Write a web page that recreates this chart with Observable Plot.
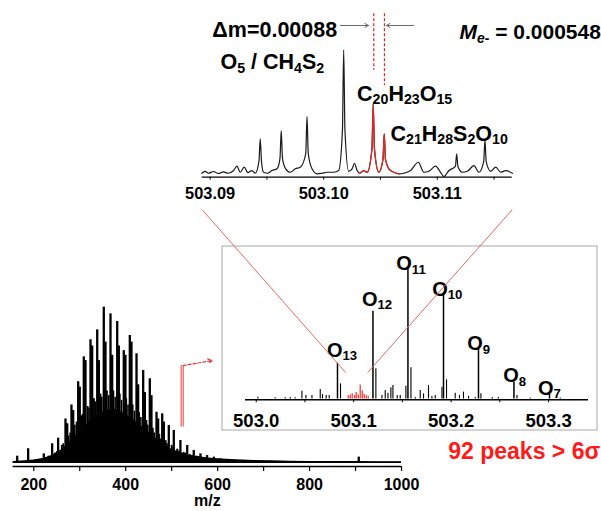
<!DOCTYPE html>
<html><head><meta charset="utf-8">
<script src="https://cdn.jsdelivr.net/npm/d3@7"></script>
<script src="https://cdn.jsdelivr.net/npm/@observablehq/plot@0.6"></script>
<style>
html,body{margin:0;padding:0;background:#fff;}
#fig{position:relative;width:601px;height:511px;overflow:hidden;background:#fff;}
#fig .pane{position:absolute;}
</style></head><body><div id="fig"></div>
<script>
const FONT = '"Liberation Sans", Arial, Helvetica, sans-serif';

// ---------- main spectrum (m/z 155-1000) ----------
const mainMz = [163.9,187.8,221.8,240,253,269,272.7,282,285.7,296.6,300,308.8,312.5,323.4,327,338,341.5,352.3,356,366.9,370.5,381.5,385,395.8,399.4,408.9,412.5,423.5,427,438,441.6,452.4,456,467,470.5,479.4,483,493.7,504.6,519,533.8,548,562.6,577,591.9,606,621,636,650,907];
const mainI  = [4,8.8,5.5,12,15.6,28,24.9,37,33.4,52,48.5,68,65.6,79,75,85.4,65.6,100,77.5,95.7,69,90.8,75,72,69,81.8,77.5,70,50,59.2,45,53.9,43,32.3,28,31.3,26,23.8,20.6,14.1,10.9,7.7,5.5,4.4,3.4,2.3,1.8,1.4,1.2,3.4];
const midMz = [232,246,261,275,289,303,317,331,345,359,373,387,401,415,429,445,459,473,487,500,512,526,540,555,570,584,598,612,627,641,655,670,684];
const midI  = [4,6,11,17,24,30,36,41,44,46,46,44,41,37,32,27,22,18,14,11,8.5,6.5,5,4,3,2.5,2,1.7,1.5,1.3,1.1,1,0.9];
const fillMz = [236,250,264,279,293,306,320,334,348,363,377,391,405,419,433,448,462,476,490,503,516,530,544,559,573,588];
const fillI  = [4,7,12,19,26,31,35,39,42,43,42,40,37,33,29,24,19,15,12,9.5,7.5,6,4.5,3.6,2.8,2.2];
const envMz = [155,180,200,220,240,260,280,300,320,340,360,380,400,420,440,460,480,500,520,540,560,580,600,640,680,720,760,800,850,900,950,1000];
const envI  = [0.6,1,1.5,2.5,4.5,8,14,20,26,31,34,34,31,27,22,17,12,8.5,6.2,4.6,3.6,2.9,2.3,1.7,1.3,1.0,0.8,0.6,0.5,0.5,0.4,0.4];
const mainTicks = [200,300,400,500,600,700,800,900,1000];
const mainTickLabels = [200,400,600,800,1000];
const mainAxisY = -2.6;
const mainXLabel = {x: 577.5, text: "m/z"};
const zoomStems = [520.6, 525];
const zoomStemRange = [22.7, 62.4];
const zoomArrow = [{x1: 525, y1: 62.4, x2: 588.2, y2: 65.6}];

// ---------- inset (m/z 503.0-503.3) ----------
const oMz = [503.0834,503.1198,503.1557,503.1922,503.2281,503.2645,503.3010];
const oI  = [27.2,66.6,100,80.3,38.1,12.7,3.4];
const oLabels = ["O_{13}","O_{12}","O_{11}","O_{10}","O_{9}","O_{8}","O_{7}"];
const oLabelMz = [503.0726,503.1085,503.1437,503.1806,503.2165,503.2535,503.2891];
const oLabelI  = [32.2,70.9,97.5,78.5,36.8,12.7,3.4];
const smallMz = [503.0017,503.0195,503.0298,503.0349,503.0400,503.0469,503.0510,503.0572,503.0657,503.0680,503.0718,503.0749,503.0865,503.1228,503.1290,503.1324,503.1352,503.1382,503.1403,503.1447,503.1478,503.1536,503.1588,503.1632,503.1683,503.1717,503.1768,503.1803,503.1837,503.1906,503.1953,503.2042,503.2086,503.2127,503.2179,503.2248,503.2306,503.2422,503.2484,503.2676,503.2812,503.3120];
const smallI  = [1.4,0.9,0.9,1.2,0.9,5.9,2.7,2.7,7.2,3.4,2.7,2.7,11.5,22.9,2.7,6.4,4.4,8.5,10.2,2.7,2.7,9.7,23.7,1.1,6.4,3.9,10.2,1.9,2.7,9,14.6,4.4,2.7,5.2,1.9,1.1,3.9,1.1,1.1,2.7,0.8,0.8];
const redMz = [503.0944,503.0965,503.0985,503.1011,503.1026,503.1047,503.1067,503.1088,503.1108,503.1129,503.1149];
const redI  = [2.5,3,4,2.6,5,3,10.6,6,3.5,2.5,2];
const insetTicks = [503.0,503.05,503.1,503.15,503.2,503.25,503.3];
const insetTickLabels = [503.0,503.1,503.2,503.3];
const insetAxisY = -0.6;
const insetNote = [{x: 503.353, y: -45.4, text: "92 peaks > 6σ"}];

// ---------- zoomed profile (m/z 503.089-503.117) ----------
const profileMz = [503.08927,503.08956,503.08985,503.09029,503.09073,503.09117,503.09161,503.09206,503.09236,503.09265,503.09300,503.09333,503.09368,503.09397,503.09430,503.09441,503.09452,503.09470,503.09506,503.09544,503.09589,503.09615,503.09626,503.09637,503.09665,503.09706,503.09750,503.09794,503.09842,503.09853,503.09864,503.09897,503.09942,503.09986,503.10030,503.10088,503.10132,503.10165,503.10176,503.10187,503.10220,503.10250,503.10271,503.10294,503.10317,503.10353,503.10383,503.10425,503.10436,503.10447,503.10485,503.10522,503.10533,503.10544,503.10574,503.10618,503.10662,503.10706,503.10765,503.10833,503.10882,503.10926,503.10985,503.11029,503.11059,503.11103,503.11160,503.11171,503.11182,503.11221,503.11265,503.11323,503.11367,503.11409,503.11420,503.11431,503.11471,503.11515,503.11559,503.11603,503.11662];
const profileI  = [0,1.6,0,1.4,-0.2,1.1,0,2.2,5.7,0.8,4.9,0.5,2.2,0,9.8,27.9,9.8,0.8,0,2.2,3.6,12.1,34.6,12.1,3.6,0.8,3.6,4.9,16,45.9,16,3.6,-0.5,0,0.8,0.8,2.2,35,100,35,1.6,3.6,8.1,2.2,0,2.2,0.8,19.7,56.2,19.7,0.8,11.2,31.9,11.2,3.6,0.8,-0.5,0,2.2,8.9,0.8,1.6,5.7,0.8,-2.7,2.2,5.5,15.7,5.5,0.8,1.6,6.2,0.8,9.5,27.1,9.5,1.6,4.9,0.8,2.2,0];
const redRange = [503.10317, 503.10662];
const topTicks = [503.09,503.095,503.10,503.105,503.11,503.115];
const topTickLabels = [503.09,503.10,503.11];
const topAxisY = -3.2;
const topLabels = [
  {x: 503.09569, y: 110.2, text: "Δm=0.00088", anchor: "middle"},
  {x: 503.09547, y: 84.6, text: "O_{5} / CH_{4}S_{2}", anchor: "middle"},
  {x: 503.10294, y: 58.9, text: "C_{20}H_{23}O_{15}", anchor: "start"},
  {x: 503.10588, y: 26.5, text: "C_{21}H_{28}S_{2}O_{10}", anchor: "start"},
  {x: 503.12441, y: 108.8, text: "*M*_{*e-*} = 0.000548", anchor: "end"}
];
const deltaArrows = [{x1: 503.10147, x2: 503.10394, y: 119.7}, {x1: 503.10791, x2: 503.10553, y: 119.7}];
const splitLines = [{x: 503.10441, y1: 129.2, y2: 83.2}, {x: 503.10535, y1: 129.2, y2: 71.1}];

// connectors: top-plot corners -> inset points
const connTopMz = [503.0893, 503.1166];
const connTopY = -29.6;
const connInsetMz = [503.0918, 503.1144];
const connInsetY = 20.1;

const rows = (xs, ys) => xs.map((x, i) => ({x, y: ys[i]}));

const fig = document.getElementById("fig");
function pane(left, top) {
  const d = document.createElement("div");
  d.className = "pane"; d.style.left = left + "px"; d.style.top = top + "px";
  fig.appendChild(d); return d;
}

// rich text: _{sub} and *italic*
function richify(root) {
  root.querySelectorAll("text").forEach(t => {
    const s = t.textContent;
    if (!/[_*]/.test(s)) return;
    const fs = parseFloat(getComputedStyle(t).fontSize);
    const segs = []; let sub = false, it = false, buf = "";
    const push = () => { if (buf) segs.push({text: buf, sub, it}); buf = ""; };
    for (let i = 0; i < s.length; i++) {
      const c = s[i];
      if (c === "_" && s[i + 1] === "{") { push(); sub = true; i++; }
      else if (c === "}" && sub) { push(); sub = false; }
      else if (c === "*") { push(); it = !it; }
      else buf += c;
    }
    push();
    while (t.firstChild) t.removeChild(t.firstChild);
    const shift = 0.18 * fs; let shifted = false;
    for (const g of segs) {
      const ts = document.createElementNS("http://www.w3.org/2000/svg", "tspan");
      ts.textContent = g.text;
      if (g.sub) {
        ts.setAttribute("font-size", (0.66 * fs).toFixed(1));
        if (!shifted) { ts.setAttribute("dy", shift.toFixed(2)); shifted = true; }
      } else if (shifted) { ts.setAttribute("dy", (-shift).toFixed(2)); shifted = false; }
      if (g.it) ts.setAttribute("font-style", "italic");
      t.appendChild(ts);
    }
  });
}

// ----- main spectrum -----
const mainPane = pane(0, 290);
const mainPlot = Plot.plot({
  width: 420, height: 221, margin: 0,
  x: {domain: [155, 1000], range: [12.6, 401], axis: null},
  y: {domain: [0, 100], range: [171.9, 16.7], axis: null},
  style: {overflow: "visible", fontFamily: FONT, background: "transparent"},
  marks: [
    Plot.areaY(rows(envMz, envI), {x: "x", y: "y", fill: "black"}),
    Plot.ruleX(rows(fillMz, fillI), {x: "x", y1: 0, y2: "y", stroke: "black", strokeWidth: 1.6}),
    Plot.ruleX(rows(midMz, midI), {x: "x", y1: 0, y2: "y", stroke: "black", strokeWidth: 1.9}),
    Plot.ruleX(rows(mainMz, mainI), {x: "x", y1: 0, y2: "y", stroke: "black", strokeWidth: 2.3}),
    Plot.ruleY([0], {x1: 155, x2: 1000, stroke: "black", strokeWidth: 1.2}),
    Plot.ruleY([mainAxisY], {x1: 155, x2: 1000, stroke: "black", strokeWidth: 1.5}),
    Plot.ruleX(mainTicks, {x: d => d, y1: mainAxisY, y2: mainAxisY, insetBottom: -5, stroke: "black", strokeWidth: 1.2}),
    Plot.text(mainTickLabels, {x: d => d, y: mainAxisY, text: d => String(d), dy: 24, lineAnchor: "bottom", fontSize: 16, fontWeight: "bold", fill: "black"}),
    Plot.text([mainXLabel], {x: "x", y: mainAxisY, text: "text", dy: 40, lineAnchor: "bottom", fontSize: 16, fontWeight: "bold", fill: "black"}),
    Plot.ruleX(zoomStems, {x: d => d, y1: zoomStemRange[0], y2: zoomStemRange[1], stroke: "#e33a3a", strokeWidth: 1}),
    Plot.arrow(zoomArrow, {x1: "x1", y1: "y1", x2: "x2", y2: "y2", stroke: "#e33a3a", strokeWidth: 1.2, strokeDasharray: "3,2", headLength: 6})
  ]
});
mainPane.appendChild(mainPlot);

// ----- inset -----
const insetPane = pane(221, 245);
const insetPlot = Plot.plot({
  width: 376, height: 185, margin: 0,
  x: {domain: [502.989, 503.341], range: [24, 367], axis: null},
  y: {domain: [0, 100], range: [153.5, 21.7], axis: null},
  style: {overflow: "visible", fontFamily: FONT, background: "transparent"},
  marks: [
    Plot.frame({stroke: "#a8a8a8", strokeWidth: 1, inset: 0.5}),
    Plot.ruleX(rows(smallMz, smallI), {x: "x", y1: 0, y2: "y", stroke: "black", strokeWidth: 1.1}),
    Plot.ruleX(rows(redMz, redI), {x: "x", y1: 0, y2: "y", stroke: "#ee1c1c", strokeWidth: 1.1}),
    Plot.ruleX(rows(oMz, oI), {x: "x", y1: 0, y2: "y", stroke: "black", strokeWidth: 1.5}),
    Plot.ruleY([insetAxisY], {x1: 502.989, x2: 503.341, stroke: "black", strokeWidth: 1.6}),
    Plot.ruleX(insetTicks, {x: d => d, y1: insetAxisY, y2: insetAxisY, insetBottom: -3, stroke: "black", strokeWidth: 1}),
    Plot.text(insetTickLabels, {x: d => d, y: insetAxisY, text: d => d.toFixed(1), dy: 27.4, lineAnchor: "bottom", fontSize: 18.5, fontWeight: "bold", fill: "black"}),
    Plot.text(oLabels.map((t, i) => ({t, x: oLabelMz[i], y: oLabelI[i]})), {x: "x", y: "y", text: "t", textAnchor: "start", lineAnchor: "bottom", fontSize: 20, fontWeight: "bold", fill: "black"}),
    Plot.text(insetNote, {x: "x", y: "y", text: "text", textAnchor: "end", lineAnchor: "bottom", fontSize: 23, fontWeight: "bold", fill: "#ff1a1a"})
  ]
});
insetPane.appendChild(insetPlot);

// ----- zoomed profile -----
const topPane = pane(170, 0);
const profile = rows(profileMz, profileI);
const topPlot = Plot.plot({
  width: 431, height: 210, margin: 0,
  x: {domain: [503.0893, 503.1166], range: [31.7, 341.7], axis: null},
  y: {domain: [0, 100], range: [172.75, 49.3], axis: null},
  style: {overflow: "visible", fontFamily: FONT, background: "transparent"},
  marks: [
    Plot.line(profile, {x: "x", y: "y", stroke: "#1a1a1a", strokeWidth: 1.2, curve: "monotone-x"}),
    Plot.line(profile.filter(d => d.x >= redRange[0] && d.x <= redRange[1]), {x: "x", y: "y", stroke: "#e32626", strokeWidth: 1.3, curve: "monotone-x"}),
    Plot.ruleY([topAxisY], {x1: 503.0893, x2: 503.1166, stroke: "black", strokeWidth: 1.3}),
    Plot.ruleX(topTicks, {x: d => d, y1: topAxisY, y2: topAxisY, insetBottom: -3, stroke: "black", strokeWidth: 1}),
    Plot.text(topTickLabels, {x: d => d, y: topAxisY, text: d => d.toFixed(2), dy: 21.6, lineAnchor: "bottom", fontSize: 16.4, fontWeight: "bold", fill: "black"}),
    Plot.ruleX(splitLines, {x: "x", y1: "y1", y2: "y2", stroke: "#e02020", strokeWidth: 1.2, strokeDasharray: "3,2"}),
    Plot.arrow(deltaArrows, {x1: "x1", x2: "x2", y1: "y", y2: "y", stroke: "#666", strokeWidth: 1, headLength: 6}),
    Plot.text(topLabels, {x: "x", y: "y", text: "text", textAnchor: "middle", lineAnchor: "bottom", fontSize: 21.5, fontWeight: "bold", fill: "black", filter: d => d.anchor === "middle"}),
    Plot.text(topLabels, {x: "x", y: "y", text: "text", textAnchor: "start", lineAnchor: "bottom", fontSize: 21.5, fontWeight: "bold", fill: "black", filter: d => d.anchor === "start"}),
    Plot.text(topLabels, {x: "x", y: "y", text: "text", textAnchor: "end", lineAnchor: "bottom", fontSize: 21, fontWeight: "bold", fill: "black", filter: d => d.anchor === "end"})
  ]
});
topPane.appendChild(topPlot);

// ----- connectors overlay -----
const tx = topPlot.scale("x"), ty = topPlot.scale("y");
const ix = insetPlot.scale("x"), iy = insetPlot.scale("y");
const links = connTopMz.map((m, i) => ({
  x1: topPane.offsetLeft + tx.apply(m), y1: topPane.offsetTop + ty.apply(connTopY),
  x2: insetPane.offsetLeft + ix.apply(connInsetMz[i]), y2: insetPane.offsetTop + iy.apply(connInsetY)
}));
const overPane = pane(0, 0);
overPane.style.pointerEvents = "none";
const overlay = Plot.plot({
  width: 601, height: 511, margin: 0,
  x: {type: "identity", axis: null}, y: {type: "identity", axis: null},
  style: {overflow: "visible", background: "transparent"},
  marks: [Plot.link(links, {x1: "x1", y1: "y1", x2: "x2", y2: "y2", stroke: "#e36a6a", strokeWidth: 1})]
});
overPane.appendChild(overlay);

richify(fig);
</script></body></html>
